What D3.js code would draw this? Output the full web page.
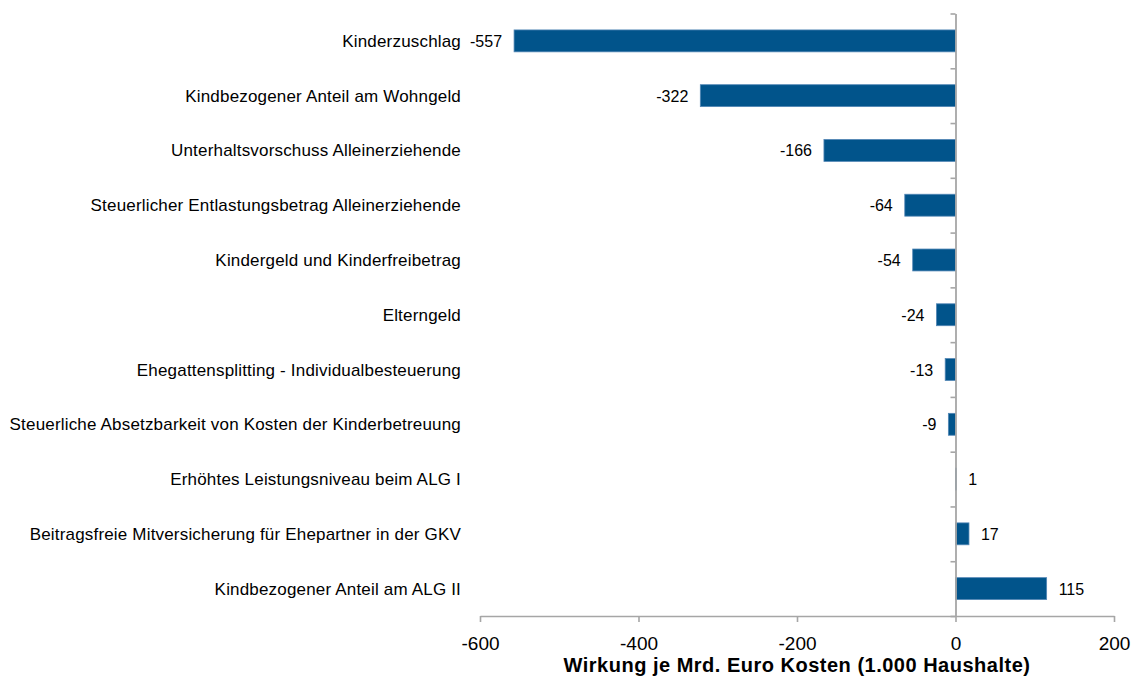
<!DOCTYPE html>
<html>
<head>
<meta charset="utf-8">
<script src="https://cdn.jsdelivr.net/npm/d3@7"></script>
<style>
  body { margin: 0; background: #fff; }
  svg { font-family: "Liberation Sans", Arial, sans-serif; }
</style>
</head>
<body>
<div id="chart"></div>
<script>
// Data
const categories = [
  "Kinderzuschlag",
  "Kindbezogener Anteil am Wohngeld",
  "Unterhaltsvorschuss Alleinerziehende",
  "Steuerlicher Entlastungsbetrag Alleinerziehende",
  "Kindergeld und Kinderfreibetrag",
  "Elterngeld",
  "Ehegattensplitting - Individualbesteuerung",
  "Steuerliche Absetzbarkeit von Kosten der Kinderbetreuung",
  "Erhöhtes Leistungsniveau beim ALG I",
  "Beitragsfreie Mitversicherung für Ehepartner in der GKV",
  "Kindbezogener Anteil am ALG II"
];
const values = [-557, -322, -166, -64, -54, -24, -13, -9, 1, 17, 115];
const xTicks = [-600, -400, -200, 0, 200];
const xTitle = "Wirkung je Mrd. Euro Kosten (1.000 Haushalte)";

const width = 1137;
const height = 677;
const margin = {top: 13.5, right: 23, bottom: 61, left: 480};

const svg = d3.select("#chart")
  .append("svg")
  .attr("width", width)
  .attr("height", height);

const x = d3.scaleLinear()
  .domain([-600, 200])
  .range([margin.left, width - margin.right]);

const y = d3.scaleBand()
  .domain(categories)
  .range([margin.top, height - margin.bottom])
  .paddingInner(0.6)
  .paddingOuter(0.3);

// boundaries between categories, for the left axis ticks
const yEdge = d3.scaleLinear()
  .domain([0, categories.length])
  .range([margin.top, height - margin.bottom]);

const axisColor = "#a6a6a6";

// bars
svg.selectAll(".bar")
  .data(values)
  .enter()
  .append("rect")
  .attr("class", "bar")
  .attr("x", d => Math.min(x(d), x(0)))
  .attr("y", (d, i) => y(categories[i]))
  .attr("width", d => Math.abs(x(d) - x(0)))
  .attr("height", y.bandwidth())
  .attr("fill", "#01548b")
  .attr("stroke", "#5286b5")
  .attr("stroke-width", 0.8);

// bottom axis
const xAxis = svg.append("g")
  .attr("transform", "translate(0," + (height - margin.bottom) + ")")
  .call(d3.axisBottom(x).tickValues(xTicks).tickSize(6).tickSizeOuter(0));

xAxis.select(".domain").attr("stroke", axisColor).attr("stroke-width", 1.6);
xAxis.selectAll(".tick line").attr("stroke", axisColor).attr("stroke-width", 1.6);
xAxis.selectAll(".tick text")
  .attr("fill", "#000")
  .attr("font-size", 19)
  .attr("y", 34)
  .attr("dy", 0)
  .text(d => d < 0 ? "-" + Math.abs(d) : d);

// vertical axis at zero
const yAxis = svg.append("g")
  .attr("transform", "translate(" + x(0) + ",0)")
  .call(d3.axisLeft(yEdge).tickValues(d3.range(categories.length + 1)).tickSize(5).tickSizeOuter(0).tickFormat(""));

yAxis.select(".domain").attr("stroke", axisColor).attr("stroke-width", 1.8);
yAxis.selectAll(".tick line").attr("stroke", axisColor).attr("stroke-width", 1.6);

// category labels
svg.selectAll(".cat")
  .data(categories)
  .enter()
  .append("text")
  .attr("class", "cat")
  .attr("x", 461)
  .attr("y", d => y(d) + y.bandwidth() / 2 + 6)
  .attr("text-anchor", "end")
  .attr("font-size", 17)
  .attr("letter-spacing", 0.18)
  .attr("fill", "#000")
  .text(d => d);

// value labels
svg.selectAll(".val")
  .data(values)
  .enter()
  .append("text")
  .attr("class", "val")
  .attr("x", d => d < 0 ? x(d) - 12 : x(d) + 12)
  .attr("y", (d, i) => y(categories[i]) + y.bandwidth() / 2 + 6)
  .attr("text-anchor", d => d < 0 ? "end" : "start")
  .attr("font-size", 16)
  .attr("fill", "#000")
  .text(d => d);

// axis title
svg.append("text")
  .attr("x", (x(-600) + x(200)) / 2)
  .attr("y", 672)
  .attr("text-anchor", "middle")
  .attr("font-size", 20)
  .attr("letter-spacing", 0.5)
  .attr("font-weight", "bold")
  .attr("fill", "#000")
  .text(xTitle);
</script>
</body>
</html>
